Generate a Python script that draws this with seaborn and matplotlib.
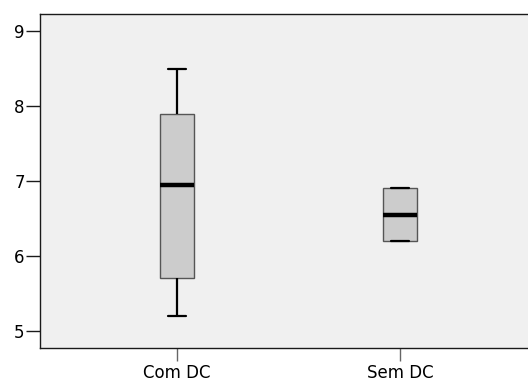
import pandas as pd
import matplotlib
matplotlib.use("Agg")
import matplotlib.pyplot as plt
import seaborn as sns

# five-number summaries (min, Q1, median, Q3, max)
groups = ["Com DC", "Sem DC"]
com_dc = [5.2, 5.7, 6.95, 7.9, 8.5]
sem_dc = [6.2, 6.2, 6.55, 6.9, 6.9]
y_ticks = [5, 6, 7, 8, 9]

df = pd.DataFrame({
    "grupo": [groups[0]] * len(com_dc) + [groups[1]] * len(sem_dc),
    "valor": com_dc + sem_dc,
})

sns.set_style("white")
plt.rcParams["font.family"] = ["DejaVu Sans"]

fig = plt.figure(figsize=(5.28, 3.81), dpi=100)
ax = fig.add_axes([40 / 528, 33 / 381, 488 / 528, 334 / 381])
ax.set_facecolor("#f0f0f0")

sns.boxplot(
    data=df, x="grupo", y="valor", order=groups, ax=ax,
    width=0.155, whis=1.5, showfliers=False,
    boxprops=dict(facecolor="#cccccc", edgecolor="#555555", linewidth=1.0),
    medianprops=dict(color="black", linewidth=3.2),
    whiskerprops=dict(color="black", linewidth=1.6),
    capprops=dict(color="black", linewidth=1.6),
    capwidths=0.08,
)

ax.set_ylim(4.773, 9.227)
ax.set_xlim(-0.614, 1.574)
ax.set_yticks(y_ticks)
ax.set_xlabel("")
ax.set_ylabel("")

for side in ["left", "top", "bottom"]:
    ax.spines[side].set_color("#1a1a1a")
    ax.spines[side].set_linewidth(1.0)
ax.spines["right"].set_visible(False)

ax.tick_params(axis="y", direction="out", length=10, width=1, color="#1a1a1a",
               labelsize=12, labelcolor="black", pad=1, left=True)
ax.tick_params(axis="x", direction="out", length=9.5, width=1, color="#666666",
               labelsize=12, labelcolor="black", pad=2, bottom=True)

plt.savefig("out.png", dpi=100)
